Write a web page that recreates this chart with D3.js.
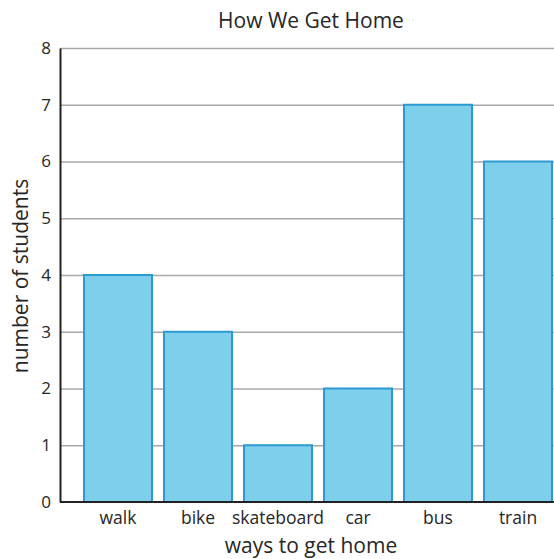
<!DOCTYPE html>
<html>
<head>
<meta charset="utf-8">
<script src="https://cdn.jsdelivr.net/npm/d3@7"></script>
<style>
body { margin: 0; background: #fff; }
text { font-family: "Open Sans", sans-serif; fill: #262626; }
</style>
</head>
<body>
<script>
var width = 554, height = 559;

var categories = ['walk', 'bike', 'skateboard', 'car', 'bus', 'train'];
var students = [4, 3, 1, 2, 7, 6];
var yTicks = [0, 1, 2, 3, 4, 5, 6, 7, 8];

var svg = d3.select('body').append('svg').attr('width', width).attr('height', height);

var x = d3.scaleBand()
    .domain(categories)
    .range([78, 558])
    .paddingInner(0.15)
    .paddingOuter(0.075);

var y = d3.scaleLinear().domain([0, 8]).range([502, 48]);

// gridlines
svg.append('g').selectAll('line')
    .data(yTicks.filter(d => d > 0))
    .enter().append('line')
    .attr('x1', 60).attr('x2', width)
    .attr('y1', d => y(d) + 0.5).attr('y2', d => y(d) + 0.5)
    .attr('stroke', '#a8a8a8')
    .attr('stroke-width', 1.3);

// bars
svg.append('g').selectAll('rect')
    .data(students)
    .enter().append('rect')
    .attr('x', (d, i) => x(categories[i]))
    .attr('y', d => y(d))
    .attr('width', x.bandwidth())
    .attr('height', d => y(0) - y(d))
    .attr('fill', '#7ecfeb')
    .attr('stroke', '#2a9ad1')
    .attr('stroke-width', 2);

// y axis
var yAxis = svg.append('g')
    .attr('transform', 'translate(60,0)')
    .call(d3.axisLeft(y).tickValues(yTicks).tickSize(0).tickPadding(9).tickFormat(d3.format('d')));
yAxis.select('.domain').attr('stroke', '#222').attr('stroke-width', 2);
yAxis.selectAll('text').attr('font-size', 17).attr('fill', '#262626').attr('font-family', '"Open Sans", sans-serif');

// baseline
svg.append('line')
    .attr('x1', 60).attr('x2', width)
    .attr('y1', y(0)).attr('y2', y(0))
    .attr('stroke', '#222').attr('stroke-width', 2);

// x axis labels
var xAxis = svg.append('g')
    .attr('transform', 'translate(0,' + y(0) + ')')
    .call(d3.axisBottom(x).tickSize(0).tickPadding(10));
xAxis.select('.domain').remove();
xAxis.selectAll('text').attr('font-size', 17.5).attr('fill', '#262626').attr('font-family', '"Open Sans", sans-serif');

// titles
svg.append('text')
    .attr('x', 311).attr('y', 28)
    .attr('text-anchor', 'middle')
    .attr('font-size', 21)
    .text('How We Get Home');

svg.append('text')
    .attr('x', 311).attr('y', 553)
    .attr('text-anchor', 'middle')
    .attr('font-size', 21)
    .text('ways to get home');

svg.append('text')
    .attr('transform', 'translate(28,276) rotate(-90)')
    .attr('text-anchor', 'middle')
    .attr('font-size', 21)
    .text('number of students');
</script>
</body>
</html>
